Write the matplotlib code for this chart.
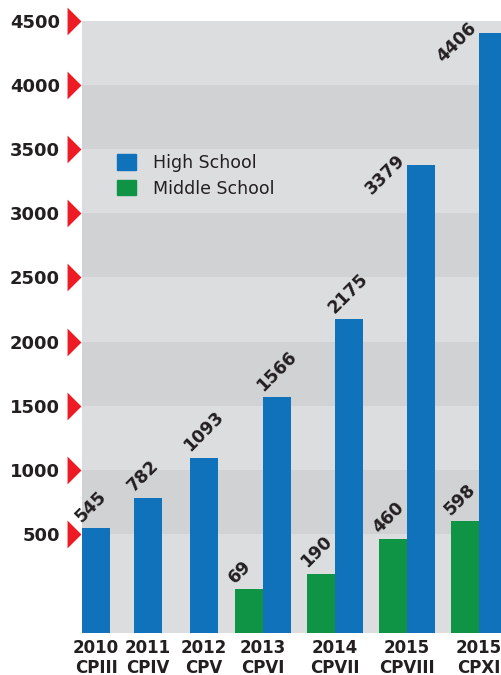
import matplotlib
matplotlib.use("Agg")
import matplotlib.pyplot as plt
from matplotlib.patches import Patch

# datos
years = ["2010", "2011", "2012", "2013", "2014", "2015", "2015"]
rounds = ["CPIII", "CPIV", "CPV", "CPVI", "CPVII", "CPVIII", "CPXI"]
high_school = [545, 782, 1093, 1566, 2175, 3379, 4406]
middle_school = [None, None, None, 69, 190, 460, 598]
yticks = [500, 1000, 1500, 2000, 2500, 3000, 3500, 4000, 4500]

# colores
BLUE = "#0f72ba"
GREEN = "#0f9345"
LIGHT = "#dcdddf"
DARK = "#d1d2d4"
RED = "#ed1c24"
TXT = "#231f20"

# centros de cada grupo (en anchos de barra)
centers = [0.5, 2.36, 4.36, 6.46, 9.04, 11.61, 14.18]
ymin, ymax = -272, 4500

fig = plt.figure(figsize=(5.01, 6.75), dpi=100)
ax = fig.add_axes([82 / 501, 1 - 633 / 675, 419 / 501, 612 / 675])
ax.set_facecolor(LIGHT)
ax.set_xlim(0, 419 / 28)
ax.set_ylim(ymin, ymax)

# bandas grises alternas
for i in range(len(yticks) - 1):
    if i % 2 == 0:
        ax.axhspan(yticks[i], yticks[i + 1], color=DARK, lw=0, zorder=0)


def label(x, v, right=False):
    if right:
        ax.annotate(str(v), (x, v), xytext=(1, 1), textcoords="offset points",
                    rotation=45, rotation_mode="anchor", ha="right", va="bottom",
                    fontsize=12.5, fontweight="bold", color=TXT)
    else:
        ax.annotate(str(v), (x, v), xytext=(2, 2), textcoords="offset points",
                    rotation=45, rotation_mode="anchor", ha="left", va="bottom",
                    fontsize=12.5, fontweight="bold", color=TXT)


for c, hs, ms in zip(centers, high_school, middle_school):
    if ms is None:
        xb = c
    else:
        xg = c - 0.5
        xb = c + 0.5
        ax.bar(xg, ms - ymin, bottom=ymin, width=1.0, color=GREEN, zorder=2)
        label(xg - 0.5, ms)
    ax.bar(xb, hs - ymin, bottom=ymin, width=1.0, color=BLUE, zorder=2)
    label(xb - 0.5, hs, right=hs > 3000)

# ejes
for s in ax.spines.values():
    s.set_visible(False)
ax.set_yticks(yticks)
ax.set_yticklabels([str(t) for t in yticks], fontsize=13, fontweight="bold", color=TXT)
ax.tick_params(axis="y", length=0, pad=16)
ax.set_xticks(centers)
ax.set_xticklabels([f"{y}\n{r}" for y, r in zip(years, rounds)], fontsize=12,
                   fontweight="bold", color=TXT, linespacing=1.2)
ax.tick_params(axis="x", length=0, pad=4)

# triangulos rojos
tri = [(-1, -2), (1, 0), (-1, 2), (-1, -2)]
ax.plot([-8 / 419] * len(yticks), yticks, linestyle="none", marker=tri,
        markersize=20, color=RED, markeredgewidth=0,
        transform=ax.get_yaxis_transform(), clip_on=False)

# leyenda
handles = [Patch(color=BLUE, label="High School"),
           Patch(color=GREEN, label="Middle School")]
ax.legend(handles=handles, loc="upper left", bbox_to_anchor=(0.0835, 0.783),
          frameon=False, fontsize=12.5, borderpad=0, borderaxespad=0,
          handlelength=1.1, handleheight=1.0, handletextpad=0.95,
          labelspacing=0.45, labelcolor=TXT)

fig.savefig("out.png", dpi=100)
